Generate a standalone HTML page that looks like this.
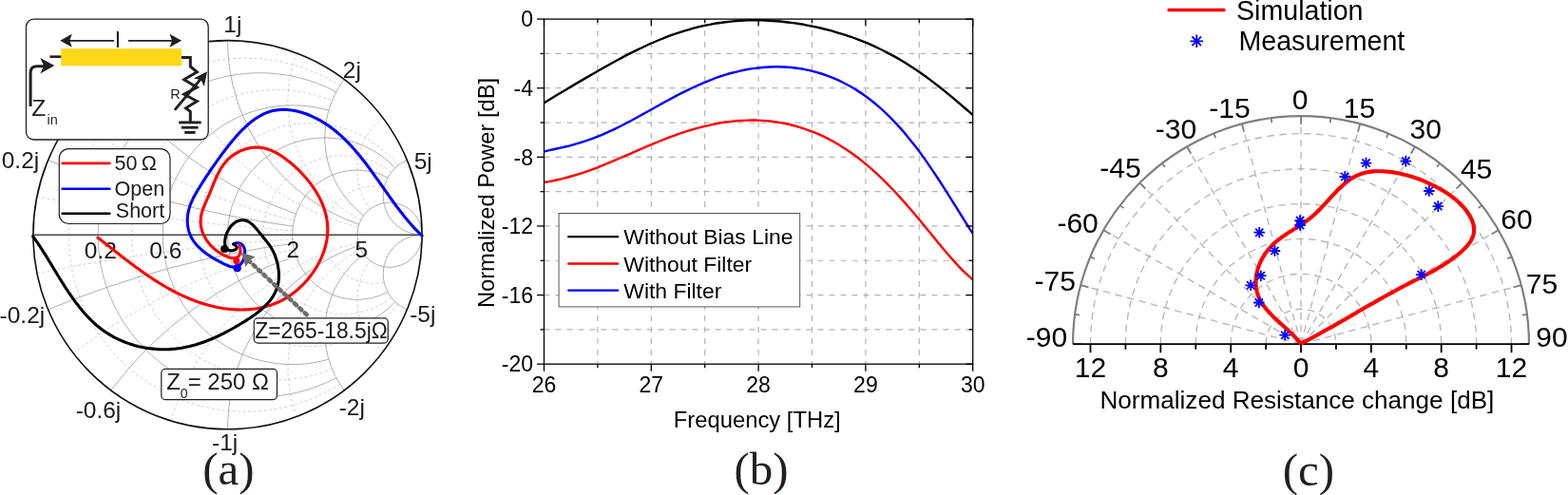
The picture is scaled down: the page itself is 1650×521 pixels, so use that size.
<!DOCTYPE html>
<html><head><meta charset="utf-8"><title>Figure</title>
<style>html,body{margin:0;padding:0;background:#fff;}svg{display:block;}</style></head>
<body><svg width="1650" height="521" viewBox="0 0 1650 521">
<rect width="1650" height="521" fill="#fff"/>
<defs><clipPath id="uc"><circle cx="239.5" cy="247.2" r="204.3"/></clipPath></defs>
<g clip-path="url(#uc)" fill="none">
<g stroke="#c4c4c4" stroke-width="0.8" stroke-dasharray="3 2.5"><path d="M357.7,404.28A186,186 0 1 1 357.7,90.12"/><path d="M38.95,206.69A2046,2046 0 0 0 307.85,242.66"/><path d="M38.95,287.71A2046,2046 0 0 1 307.85,251.74"/><path d="M349.49,388.41A152.69,152.69 0 1 1 349.49,105.99"/><path d="M77.3,122.49A601.76,601.76 0 0 0 309.43,231.94"/><path d="M77.3,371.91A601.76,601.76 0 0 1 309.43,262.46"/><path d="M418.7,320.2A117.59,117.59 0 1 1 418.7,174.2"/><path d="M179.69,51.54A276.49,276.49 0 0 0 376.92,238.91"/><path d="M179.69,442.86A276.49,276.49 0 0 1 376.92,255.49"/><path d="M411.76,313.19A83.51,83.51 0 1 1 411.76,181.21"/><path d="M312.21,55.95A141.1,141.1 0 0 0 379.66,231.63"/><path d="M312.21,438.45A141.1,141.1 0 0 1 379.66,262.77"/><path d="M404.18,297.1A51.15,51.15 0 1 1 404.18,197.3"/><path d="M403.18,124.44A68.2,68.2 0 0 0 389.54,219.92"/><path d="M403.18,369.96A68.2,68.2 0 0 1 389.54,274.48"/></g>
<g stroke="#9a9a9a" stroke-width="0.8"><path d="M353.84,397.64A170.5,170.5 0 1 1 353.84,96.76"/><path d="M50.64,168.51A1023,1023 0 0 0 308.3,238.15"/><path d="M50.64,325.89A1023,1023 0 0 1 308.3,256.25"/><path d="M345.89,378.14A136.4,136.4 0 1 1 345.89,116.26"/><path d="M116.74,83.52A409.2,409.2 0 0 0 311.39,225.08"/><path d="M116.74,410.88A409.2,409.2 0 0 1 311.39,269.32"/><path d="M415.88,317.75A102.3,102.3 0 1 1 415.88,176.65"/><path d="M239.5,42.6A204.6,204.6 0 0 0 377.74,236.14"/><path d="M239.5,451.8A204.6,204.6 0 0 1 377.74,258.26"/><path d="M407.99,307.38A68.2,68.2 0 1 1 407.99,187.02"/><path d="M362.26,83.52A102.3,102.3 0 0 0 382.72,226.74"/><path d="M362.26,410.88A102.3,102.3 0 0 1 382.72,267.66"/><circle cx="410" cy="247.2" r="34.1"/><path d="M428.36,168.51A40.92,40.92 0 0 0 444.1,247.2"/><path d="M428.36,325.89A40.92,40.92 0 0 1 444.1,247.2"/></g>
</g>
<line x1="34.9" y1="247.2" x2="444.1" y2="247.2" stroke="#454545" stroke-width="1.4"/>
<circle cx="239.5" cy="247.2" r="204.6" fill="none" stroke="#111" stroke-width="1.6"/>
<text x="244.8" y="34.2" font-size="24.5" text-anchor="middle" font-family="'Liberation Sans', Arial, Helvetica, sans-serif" fill="#1a1a1a">1j</text>
<text x="370.3" y="81.6" font-size="24.5" text-anchor="middle" font-family="'Liberation Sans', Arial, Helvetica, sans-serif" fill="#1a1a1a">2j</text>
<text x="445.2" y="178.4" font-size="24.5" text-anchor="middle" font-family="'Liberation Sans', Arial, Helvetica, sans-serif" fill="#1a1a1a">5j</text>
<text x="21.5" y="176.6" font-size="24.5" text-anchor="middle" font-family="'Liberation Sans', Arial, Helvetica, sans-serif" fill="#1a1a1a">0.2j</text>
<text x="23.4" y="339.5" font-size="24.5" text-anchor="middle" font-family="'Liberation Sans', Arial, Helvetica, sans-serif" fill="#1a1a1a">-0.2j</text>
<text x="103.5" y="440.3" font-size="24.5" text-anchor="middle" font-family="'Liberation Sans', Arial, Helvetica, sans-serif" fill="#1a1a1a">-0.6j</text>
<text x="236.7" y="474.4" font-size="24.5" text-anchor="middle" font-family="'Liberation Sans', Arial, Helvetica, sans-serif" fill="#1a1a1a">-1j</text>
<text x="370.3" y="436.8" font-size="24.5" text-anchor="middle" font-family="'Liberation Sans', Arial, Helvetica, sans-serif" fill="#1a1a1a">-2j</text>
<text x="444.8" y="338.8" font-size="24.5" text-anchor="middle" font-family="'Liberation Sans', Arial, Helvetica, sans-serif" fill="#1a1a1a">-5j</text>
<text x="105.9" y="271.5" font-size="24.5" text-anchor="middle" font-family="'Liberation Sans', Arial, Helvetica, sans-serif" fill="#1a1a1a">0.2</text>
<text x="174.3" y="271.5" font-size="24.5" text-anchor="middle" font-family="'Liberation Sans', Arial, Helvetica, sans-serif" fill="#1a1a1a">0.6</text>
<text x="308.2" y="271.2" font-size="24.5" text-anchor="middle" font-family="'Liberation Sans', Arial, Helvetica, sans-serif" fill="#1a1a1a">2</text>
<text x="380.2" y="271.2" font-size="24.5" text-anchor="middle" font-family="'Liberation Sans', Arial, Helvetica, sans-serif" fill="#1a1a1a">5</text>
<path d="M444.1,248.1 442.7,246.8 441.3,245.4 440.0,244.1 438.6,242.7 437.3,241.3 435.9,239.9 434.6,238.4 433.3,237.0 432.0,235.5 430.7,234.0 429.4,232.5 428.2,231.0 426.9,229.5 425.6,227.9 424.4,226.4 423.2,224.8 421.9,223.2 420.7,221.6 419.5,220.0 418.2,218.4 417.0,216.8 415.8,215.1 414.6,213.5 413.4,211.8 412.2,210.2 411.0,208.5 409.8,206.8 408.6,205.1 407.5,203.5 406.3,201.8 405.1,200.1 403.9,198.4 402.7,196.7 401.5,195.0 400.3,193.3 399.1,191.6 397.9,189.9 396.7,188.2 395.5,186.6 394.3,184.9 393.1,183.2 391.9,181.5 390.7,179.8 389.5,178.2 388.2,176.5 387.0,174.9 385.8,173.2 384.5,171.6 383.3,169.9 382.0,168.3 380.7,166.7 379.4,165.1 378.1,163.5 376.8,162.0 375.5,160.4 374.2,158.9 372.9,157.3 371.5,155.8 370.2,154.3 368.8,152.8 367.4,151.3 366.0,149.9 364.6,148.5 363.2,147.0 361.8,145.7 360.3,144.3 358.9,142.9 357.4,141.6 355.9,140.3 354.4,139.0 352.8,137.7 351.3,136.5 349.7,135.3 348.1,134.1 346.5,132.9 344.9,131.8 343.2,130.7 341.6,129.6 339.9,128.6 338.2,127.5 336.5,126.5 334.7,125.6 332.9,124.6 331.1,123.8 329.3,122.9 327.5,122.1 325.6,121.3 323.8,120.5 321.9,119.8 320.0,119.2 318.1,118.6 316.2,118.0 314.2,117.5 312.3,117.0 310.4,116.6 308.4,116.3 306.5,116.0 304.5,115.7 302.6,115.5 300.6,115.4 298.7,115.4 296.8,115.4 294.8,115.5 292.9,115.7 291.0,115.9 289.1,116.2 287.2,116.6 285.4,117.1 283.5,117.6 281.7,118.2 279.9,118.9 278.1,119.7 276.3,120.6 274.5,121.5 272.8,122.5 271.1,123.5 269.4,124.6 267.7,125.8 266.0,127.0 264.3,128.3 262.7,129.6 261.1,131.0 259.5,132.4 257.9,133.8 256.4,135.3 254.8,136.8 253.3,138.3 251.8,139.9 250.4,141.5 248.9,143.1 247.5,144.7 246.1,146.4 244.7,148.0 243.3,149.7 241.9,151.4 240.6,153.0 239.3,154.7 238.0,156.4 236.8,158.0 235.5,159.7 234.3,161.3 233.1,162.9 231.9,164.5 230.8,166.1 229.6,167.7 228.5,169.2 227.4,170.8 226.3,172.3 225.3,173.8 224.2,175.4 223.1,176.9 222.1,178.4 221.0,180.0 220.0,181.5 219.0,183.1 217.9,184.6 216.9,186.2 215.8,187.8 214.8,189.5 213.7,191.1 212.6,192.8 211.6,194.5 210.5,196.2 209.4,198.0 208.3,199.8 207.2,201.6 206.1,203.5 205.1,205.4 204.0,207.2 203.1,209.2 202.2,211.1 201.3,213.0 200.5,215.0 199.8,217.0 199.2,218.9 198.6,220.9 198.2,222.9 197.8,224.9 197.5,226.9 197.3,228.9 197.2,230.8 197.2,232.8 197.3,234.7 197.5,236.7 197.7,238.6 198.1,240.5 198.5,242.3 199.0,244.2 199.7,246.0 200.4,247.7 201.2,249.5 202.1,251.2 203.1,252.8 204.2,254.4 205.4,256.0 206.6,257.5 208.0,259.0 209.4,260.4 210.9,261.8 212.4,263.2 214.0,264.5 215.6,265.8 217.3,267.1 219.1,268.3 220.9,269.5 222.7,270.6 224.5,271.8 226.4,272.8 228.3,273.9 230.2,274.9 232.1,275.9 234.0,276.9 235.9,277.9 237.7,278.7 239.6,279.5 241.5,280.2 243.3,280.7 245.0,281.0 246.7,281.1 248.3,280.9 249.9,280.4 251.3,279.6 252.7,278.5 253.9,277.2 255.0,275.6 256.0,273.9 256.7,272.0 257.3,270.1 257.6,268.0 257.7,265.9 257.6,263.8 257.2,261.8 256.6,260.0 255.6,258.4 254.4,257.1 252.8,256.2 251.0,255.8 248.8,255.8 246.2,256.5" fill="none" stroke="#0000ff" stroke-width="3.1" stroke-linecap="round" stroke-linejoin="round"/>
<path d="M102.9,250.1 104.5,251.3 106.0,252.5 107.6,253.7 109.1,255.0 110.7,256.2 112.2,257.4 113.8,258.6 115.3,259.8 116.9,261.1 118.5,262.3 120.0,263.5 121.6,264.8 123.2,266.0 124.8,267.2 126.3,268.5 127.9,269.7 129.5,270.9 131.1,272.2 132.7,273.4 134.3,274.6 135.9,275.8 137.5,277.1 139.2,278.3 140.8,279.5 142.4,280.7 144.1,281.9 145.7,283.1 147.3,284.3 149.0,285.4 150.6,286.6 152.3,287.8 154.0,288.9 155.6,290.1 157.3,291.2 159.0,292.3 160.7,293.5 162.4,294.6 164.1,295.7 165.8,296.7 167.5,297.8 169.3,298.9 171.0,299.9 172.7,301.0 174.5,302.0 176.2,303.0 178.0,304.0 179.8,304.9 181.5,305.9 183.3,306.8 185.1,307.8 186.9,308.7 188.7,309.6 190.5,310.4 192.3,311.3 194.2,312.1 196.0,312.9 197.9,313.7 199.7,314.5 201.6,315.3 203.5,316.0 205.3,316.7 207.2,317.4 209.1,318.1 211.0,318.7 213.0,319.3 214.9,319.9 216.8,320.5 218.8,321.1 220.7,321.6 222.7,322.1 224.7,322.5 226.6,323.0 228.6,323.4 230.6,323.8 232.6,324.1 234.6,324.5 236.6,324.7 238.5,325.0 240.5,325.2 242.5,325.5 244.5,325.6 246.5,325.8 248.5,325.9 250.5,325.9 252.5,326.0 254.5,326.0 256.5,325.9 258.5,325.9 260.5,325.8 262.4,325.6 264.4,325.5 266.4,325.2 268.3,325.0 270.3,324.7 272.2,324.4 274.1,324.0 276.0,323.6 277.9,323.1 279.8,322.6 281.7,322.1 283.6,321.5 285.5,320.9 287.3,320.2 289.2,319.5 291.0,318.8 292.8,318.0 294.6,317.2 296.4,316.3 298.1,315.3 299.9,314.3 301.6,313.3 303.3,312.2 305.0,311.1 306.6,310.0 308.3,308.8 309.9,307.5 311.5,306.2 313.1,304.9 314.6,303.5 316.1,302.2 317.6,300.7 319.1,299.3 320.5,297.8 321.9,296.2 323.3,294.7 324.6,293.1 325.9,291.5 327.2,289.8 328.4,288.1 329.6,286.5 330.8,284.7 331.9,283.0 333.0,281.2 334.0,279.4 335.0,277.6 336.0,275.8 336.9,274.0 337.8,272.1 338.6,270.3 339.4,268.4 340.1,266.5 340.8,264.6 341.4,262.7 342.0,260.8 342.5,258.8 343.0,256.9 343.4,255.0 343.8,253.0 344.1,251.1 344.4,249.1 344.6,247.2 344.7,245.2 344.8,243.3 344.8,241.3 344.8,239.4 344.7,237.4 344.6,235.5 344.3,233.6 344.1,231.7 343.7,229.8 343.4,227.9 342.9,226.0 342.4,224.1 341.9,222.2 341.3,220.3 340.7,218.5 340.0,216.6 339.3,214.8 338.5,213.0 337.7,211.1 336.8,209.3 335.9,207.6 334.9,205.8 333.9,204.0 332.9,202.3 331.8,200.5 330.7,198.8 329.6,197.1 328.4,195.5 327.2,193.8 325.9,192.1 324.7,190.5 323.3,188.9 322.0,187.3 320.6,185.8 319.2,184.2 317.8,182.7 316.4,181.2 314.9,179.7 313.4,178.2 311.9,176.8 310.4,175.4 308.8,174.0 307.3,172.6 305.7,171.3 304.1,170.0 302.4,168.7 300.8,167.5 299.2,166.2 297.5,165.1 295.8,163.9 294.1,162.8 292.4,161.8 290.7,160.8 288.9,159.9 287.2,159.1 285.4,158.3 283.6,157.6 281.8,157.0 279.9,156.4 278.1,156.0 276.2,155.6 274.3,155.3 272.4,155.1 270.5,155.0 268.6,155.1 266.6,155.2 264.6,155.5 262.7,155.8 260.7,156.2 258.7,156.8 256.8,157.4 254.9,158.1 253.0,158.9 251.1,159.8 249.3,160.8 247.6,161.8 245.9,162.9 244.2,164.1 242.6,165.3 241.1,166.6 239.7,168.0 238.4,169.4 237.1,170.9 235.9,172.4 234.7,174.0 233.6,175.6 232.5,177.2 231.5,178.9 230.6,180.6 229.7,182.4 228.8,184.2 227.9,186.0 227.1,187.8 226.3,189.7 225.5,191.6 224.7,193.5 223.9,195.4 223.1,197.3 222.4,199.3 221.6,201.2 220.8,203.1 220.0,205.1 219.2,207.0 218.3,208.9 217.5,210.9 216.6,212.8 215.8,214.7 215.0,216.6 214.2,218.5 213.5,220.4 212.9,222.3 212.3,224.2 211.9,226.1 211.5,228.1 211.3,230.0 211.1,231.9 211.1,233.8 211.2,235.6 211.4,237.5 211.7,239.4 212.2,241.2 212.7,243.1 213.3,244.9 214.0,246.7 214.9,248.4 215.8,250.1 216.8,251.8 217.9,253.5 219.1,255.1 220.4,256.7 221.7,258.2 223.1,259.7 224.7,261.1 226.2,262.5 227.9,263.8 229.6,265.0 231.4,266.2 233.3,267.3 235.2,268.3 237.1,269.3 239.0,270.0 240.9,270.7 242.7,271.2 244.4,271.5 246.1,271.6 247.6,271.5 249.0,271.1 250.2,270.5 251.2,269.6 252.0,268.5 252.6,267.0 252.9,265.3 253.0,263.1 252.7,260.6 252.2,257.8" fill="none" stroke="#ff0000" stroke-width="3.1" stroke-linecap="round" stroke-linejoin="round"/>
<path d="M34.6,248.7 35.7,250.2 36.8,251.7 37.9,253.3 39.0,254.9 40.1,256.4 41.1,258.0 42.2,259.6 43.3,261.3 44.4,262.9 45.4,264.6 46.5,266.3 47.5,267.9 48.6,269.6 49.6,271.3 50.7,273.1 51.7,274.8 52.8,276.5 53.9,278.2 54.9,280.0 56.0,281.7 57.0,283.5 58.1,285.2 59.2,287.0 60.2,288.8 61.3,290.5 62.4,292.3 63.5,294.0 64.6,295.8 65.7,297.6 66.8,299.3 67.9,301.1 69.0,302.8 70.2,304.5 71.3,306.3 72.4,308.0 73.6,309.7 74.8,311.4 76.0,313.1 77.2,314.8 78.4,316.4 79.6,318.1 80.8,319.7 82.1,321.3 83.3,322.9 84.6,324.5 85.9,326.1 87.2,327.7 88.5,329.2 89.9,330.7 91.2,332.2 92.6,333.7 94.0,335.1 95.4,336.5 96.8,337.9 98.3,339.3 99.7,340.6 101.2,342.0 102.7,343.3 104.3,344.5 105.8,345.7 107.4,346.9 109.0,348.1 110.6,349.2 112.3,350.3 114.0,351.4 115.6,352.4 117.4,353.4 119.1,354.4 120.8,355.3 122.6,356.2 124.4,357.1 126.2,357.9 128.0,358.7 129.9,359.5 131.7,360.2 133.6,360.9 135.5,361.6 137.4,362.2 139.3,362.8 141.2,363.4 143.1,363.9 145.1,364.4 147.0,364.9 149.0,365.3 151.0,365.7 152.9,366.1 154.9,366.4 156.9,366.7 158.9,366.9 160.9,367.1 162.9,367.3 164.9,367.5 166.9,367.6 168.9,367.7 170.9,367.7 172.9,367.7 174.9,367.7 176.9,367.7 178.9,367.6 180.9,367.4 182.9,367.3 184.8,367.1 186.8,366.8 188.8,366.6 190.8,366.3 192.7,365.9 194.7,365.5 196.6,365.1 198.6,364.7 200.5,364.2 202.4,363.7 204.4,363.2 206.3,362.7 208.2,362.1 210.1,361.5 212.0,360.8 213.9,360.2 215.8,359.5 217.7,358.8 219.6,358.0 221.5,357.3 223.3,356.5 225.2,355.7 227.1,354.8 228.9,354.0 230.8,353.1 232.6,352.2 234.4,351.3 236.3,350.4 238.1,349.4 239.9,348.5 241.7,347.5 243.5,346.5 245.3,345.5 247.1,344.5 248.9,343.4 250.7,342.4 252.5,341.3 254.3,340.2 256.1,339.2 257.8,338.1 259.6,336.9 261.3,335.8 263.1,334.7 264.8,333.5 266.4,332.4 268.1,331.2 269.7,330.0 271.4,328.7 272.9,327.5 274.5,326.2 276.0,324.9 277.4,323.6 278.8,322.2 280.2,320.8 281.5,319.4 282.8,318.0 284.0,316.5 285.1,315.0 286.2,313.5 287.3,311.9 288.2,310.3 289.1,308.6 289.9,306.9 290.6,305.2 291.3,303.4 291.9,301.6 292.4,299.8 292.8,297.9 293.1,295.9 293.3,293.9 293.4,291.9 293.5,289.8 293.4,287.7 293.3,285.5 293.0,283.4 292.7,281.2 292.3,279.0 291.9,276.9 291.3,274.8 290.7,272.7 290.0,270.7 289.3,268.7 288.5,266.8 287.6,264.9 286.7,263.1 285.7,261.5 284.7,259.8 283.7,258.2 282.6,256.7 281.4,255.2 280.3,253.7 279.1,252.2 277.8,250.7 276.6,249.1 275.3,247.6 274.0,246.0 272.6,244.3 271.3,242.6 269.9,241.0 268.5,239.4 267.1,237.8 265.6,236.4 264.0,235.1 262.5,233.9 260.8,233.0 259.1,232.3 257.4,231.9 255.5,231.7 253.7,231.8 251.9,232.1 250.1,232.7 248.3,233.5 246.7,234.7 245.0,236.0 243.5,237.6 242.1,239.3 240.9,241.2 239.7,243.2 238.7,245.3 237.9,247.5 237.3,249.6 236.9,251.8 236.6,253.9 236.6,255.9 236.8,257.7 237.3,259.4 237.9,260.9 238.8,262.1 240.0,263.0 241.4,263.6 243.0,263.9 244.7,263.7 246.4,263.3 247.8,262.7 248.9,261.8 249.3,260.7 249.0,259.6 247.8,258.3 245.5,257.0" fill="none" stroke="#000" stroke-width="3.1" stroke-linecap="round" stroke-linejoin="round"/>
<circle cx="236.2" cy="262" r="4.1" fill="#000"/><circle cx="248.8" cy="274.4" r="3.6" fill="#f00"/><circle cx="249.7" cy="282.2" r="4.1" fill="#00f"/>
<line x1="322.8" y1="331.3" x2="263" y2="275.5" stroke="#6d6d6d" stroke-width="4.6" stroke-linecap="round" stroke-dasharray="2.8 4.6"/>
<path d="M253.8,265.8 L268.6,270.2 L263,274 L258.6,280.9 Z" fill="#6d6d6d"/>
<rect x="267.3" y="334.9" width="141" height="26.2" rx="4" fill="#fff" stroke="#231f20" stroke-width="1.2"/>
<text x="268.3" y="355.6" font-size="23.8" text-anchor="start" font-family="'Liberation Sans', Arial, Helvetica, sans-serif" fill="#1a1a1a" textLength="139.5" lengthAdjust="spacingAndGlyphs">Z=265-18.5jΩ</text>
<rect x="169.8" y="388.4" width="121.7" height="32.2" rx="4" fill="#fff" stroke="#231f20" stroke-width="1.2"/>
<text x="175.2" y="410.2" font-size="24" text-anchor="start" font-family="'Liberation Sans', Arial, Helvetica, sans-serif" fill="#1a1a1a">Z<tspan font-size="14" dy="8.3">0</tspan><tspan dy="-8.3">= 250 Ω</tspan></text>
<rect x="62.3" y="156.6" width="116.7" height="78.9" rx="10" fill="#fff" stroke="#231f20" stroke-width="1.2"/>
<line x1="65.7" y1="171.9" x2="115.4" y2="171.9" stroke="#f00" stroke-width="2.6" stroke-linecap="round"/>
<line x1="65.7" y1="198.7" x2="115.4" y2="198.7" stroke="#00f" stroke-width="2.6" stroke-linecap="round"/>
<line x1="65.7" y1="224.8" x2="115.4" y2="224.8" stroke="#000" stroke-width="2.6" stroke-linecap="round"/>
<text x="120.6" y="179.4" font-size="21.5" text-anchor="start" font-family="'Liberation Sans', Arial, Helvetica, sans-serif" fill="#1a1a1a">50&#8201;Ω</text>
<text x="120.6" y="205.6" font-size="21.5" text-anchor="start" font-family="'Liberation Sans', Arial, Helvetica, sans-serif" fill="#1a1a1a">Open</text>
<text x="121.8" y="228.6" font-size="21.5" text-anchor="start" font-family="'Liberation Sans', Arial, Helvetica, sans-serif" fill="#1a1a1a">Short</text>
<rect x="27.5" y="20.2" width="191.7" height="126.8" rx="8" fill="#fff" stroke="#231f20" stroke-width="1.3"/>
<rect x="64.2" y="51.1" width="126.9" height="18.2" fill="#fdd817"/>
<g stroke="#231f20" fill="none" stroke-width="1.8"><line x1="73" y1="42.8" x2="120.1" y2="42.8"/><line x1="135" y1="42.8" x2="181.5" y2="42.8"/></g>
<path d="M63.2,42.8 L75.8,35.8 L73.3,42.8 L75.8,49.8 Z M191.1,42.8 L178.5,35.8 L181,42.8 L178.5,49.8 Z" fill="#231f20"/>
<text x="123.9" y="49.9" font-size="24" text-anchor="middle" font-family="'Liberation Sans', Arial, Helvetica, sans-serif" fill="#231f20">l</text>
<line x1="52.4" y1="59.7" x2="64.3" y2="59.7" stroke="#231f20" stroke-width="2.7"/>
<polyline points="191,60.5 200.3,60.5 200.3,70 207.3,75.8 193.7,83.7 207.3,91.9 193.7,99.2 207.3,106.5 195.5,113.8 200.3,117.4 200.3,128.7" fill="none" stroke="#231f20" stroke-width="3" stroke-linejoin="miter"/>
<g stroke="#231f20" stroke-width="2.9"><line x1="188.2" y1="128.9" x2="211.6" y2="128.9"/><line x1="191" y1="134.2" x2="208.6" y2="134.2"/><line x1="194.2" y1="139.4" x2="205.6" y2="139.4"/></g>
<line x1="184.6" y1="114.9" x2="211.5" y2="82.9" stroke="#231f20" stroke-width="3" stroke-linecap="round"/>
<path d="M218,75.2 L214.8,91 L211.5,84 L203.8,82.4 Z" fill="#231f20"/>
<text x="179.2" y="103.8" font-size="14.5" text-anchor="start" font-family="'Liberation Sans', Arial, Helvetica, sans-serif" fill="#231f20">R</text>
<path d="M32.1,111.9 L32.1,76.5 Q32.1,69.7 39,69.7 L47,69.7" fill="none" stroke="#231f20" stroke-width="3"/>
<path d="M57.4,68.9 L42.3,61.1 L46.2,69.2 L42.3,77.4 Z" fill="#231f20"/>
<text x="33.3" y="121.6" font-size="24.5" text-anchor="start" font-family="'Liberation Sans', Arial, Helvetica, sans-serif" fill="#231f20">Z<tspan font-size="14.5" dx="1.2" dy="9.3">in</tspan></text>
<text x="240.5" y="509.5" font-size="49" text-anchor="middle" font-family="'Liberation Serif', 'Times New Roman', serif" fill="#231f20">(a)</text>
<g stroke="#b4b4b4" stroke-width="1.2" stroke-dasharray="6 6"><line x1="628.9" y1="20.1" x2="628.9" y2="383.2"/><line x1="685.3" y1="20.1" x2="685.3" y2="383.2"/><line x1="741.7" y1="20.1" x2="741.7" y2="383.2"/><line x1="798.1" y1="20.1" x2="798.1" y2="383.2"/><line x1="854.5" y1="20.1" x2="854.5" y2="383.2"/><line x1="910.9" y1="20.1" x2="910.9" y2="383.2"/><line x1="967.3" y1="20.1" x2="967.3" y2="383.2"/><line x1="572.5" y1="56.41" x2="1023.7" y2="56.41"/><line x1="572.5" y1="92.72" x2="1023.7" y2="92.72"/><line x1="572.5" y1="129.03" x2="1023.7" y2="129.03"/><line x1="572.5" y1="165.34" x2="1023.7" y2="165.34"/><line x1="572.5" y1="201.65" x2="1023.7" y2="201.65"/><line x1="572.5" y1="237.96" x2="1023.7" y2="237.96"/><line x1="572.5" y1="274.27" x2="1023.7" y2="274.27"/><line x1="572.5" y1="310.58" x2="1023.7" y2="310.58"/><line x1="572.5" y1="346.89" x2="1023.7" y2="346.89"/></g>
<defs><clipPath id="pb"><rect x="572.5" y="17.1" width="451.2" height="366.1"/></clipPath></defs>
<g clip-path="url(#pb)" fill="none" stroke-width="2.4" stroke-linejoin="round">
<path d="M571.5,108.91C572.78,108.12 576.62,105.76 579.18,104.21C581.74,102.65 584.3,101.11 586.86,99.57C589.42,98.03 591.98,96.5 594.54,94.97C597.1,93.44 599.66,91.92 602.23,90.4C604.79,88.89 607.35,87.38 609.91,85.87C612.47,84.37 615.03,82.86 617.59,81.37C620.15,79.88 622.71,78.4 625.27,76.92C627.83,75.45 630.39,73.98 632.95,72.53C635.51,71.08 638.07,69.64 640.63,68.22C643.19,66.8 645.75,65.39 648.31,64C650.87,62.61 653.43,61.24 655.99,59.9C658.56,58.55 661.12,57.22 663.68,55.93C666.24,54.63 668.8,53.35 671.36,52.11C673.92,50.87 676.48,49.65 679.04,48.47C681.6,47.29 684.16,46.13 686.72,45.01C689.28,43.9 691.84,42.81 694.4,41.76C696.96,40.72 699.52,39.7 702.08,38.73C704.64,37.76 707.2,36.82 709.76,35.93C712.32,35.03 714.89,34.17 717.45,33.36C720.01,32.55 722.57,31.77 725.13,31.04C727.69,30.3 730.25,29.61 732.81,28.96C735.37,28.32 737.93,27.71 740.49,27.14C743.05,26.58 745.61,26.05 748.17,25.57C750.73,25.09 753.29,24.65 755.85,24.26C758.41,23.86 760.97,23.5 763.53,23.19C766.09,22.87 768.65,22.6 771.22,22.36C773.78,22.13 776.34,21.93 778.9,21.78C781.46,21.62 784.02,21.5 786.58,21.42C789.14,21.34 791.7,21.3 794.26,21.3C796.82,21.29 799.38,21.33 801.94,21.4C804.5,21.46 807.06,21.57 809.62,21.71C812.18,21.85 814.74,22.02 817.3,22.23C819.86,22.44 822.42,22.68 824.98,22.95C827.55,23.23 830.11,23.54 832.67,23.88C835.23,24.22 837.79,24.59 840.35,25C842.91,25.4 845.47,25.84 848.03,26.31C850.59,26.78 853.15,27.29 855.71,27.82C858.27,28.36 860.83,28.93 863.39,29.53C865.95,30.13 868.51,30.77 871.07,31.44C873.63,32.11 876.19,32.81 878.75,33.55C881.31,34.29 883.88,35.06 886.44,35.87C889,36.68 891.56,37.53 894.12,38.42C896.68,39.3 899.24,40.22 901.8,41.19C904.36,42.15 906.92,43.16 909.48,44.2C912.04,45.25 914.6,46.34 917.16,47.47C919.72,48.6 922.28,49.78 924.84,51C927.4,52.22 929.96,53.49 932.52,54.81C935.08,56.12 937.64,57.48 940.21,58.9C942.77,60.31 945.33,61.77 947.89,63.28C950.45,64.8 953.01,66.36 955.57,67.97C958.13,69.58 960.69,71.25 963.25,72.96C965.81,74.68 968.37,76.44 970.93,78.25C973.49,80.07 976.05,81.93 978.61,83.84C981.17,85.75 983.73,87.7 986.29,89.7C988.85,91.7 991.41,93.74 993.97,95.81C996.54,97.89 999.1,100 1001.66,102.14C1004.22,104.28 1006.78,106.46 1009.34,108.64C1011.9,110.82 1014.46,113.03 1017.02,115.24C1019.58,117.44 1023.42,120.76 1024.7,121.86" stroke="#000"/>
<path d="M571.5,159.67C572.78,159.38 576.62,158.52 579.18,157.95C581.74,157.39 584.3,156.86 586.86,156.29C589.42,155.71 591.98,155.14 594.54,154.53C597.1,153.91 599.66,153.28 602.23,152.59C604.79,151.9 607.35,151.18 609.91,150.4C612.47,149.62 615.03,148.8 617.59,147.92C620.15,147.05 622.71,146.12 625.27,145.15C627.83,144.17 630.39,143.14 632.95,142.07C635.51,140.99 638.07,139.87 640.63,138.7C643.19,137.54 645.75,136.32 648.31,135.08C650.87,133.83 653.43,132.54 655.99,131.23C658.56,129.92 661.12,128.57 663.68,127.2C666.24,125.84 668.8,124.44 671.36,123.04C673.92,121.64 676.48,120.21 679.04,118.79C681.6,117.37 684.16,115.93 686.72,114.5C689.28,113.07 691.84,111.64 694.4,110.22C696.96,108.81 699.52,107.39 702.08,106C704.64,104.61 707.2,103.23 709.76,101.88C712.32,100.53 714.89,99.19 717.45,97.9C720.01,96.6 722.57,95.32 725.13,94.09C727.69,92.85 730.25,91.65 732.81,90.49C735.37,89.33 737.93,88.21 740.49,87.13C743.05,86.05 745.61,85.02 748.17,84.03C750.73,83.04 753.29,82.1 755.85,81.21C758.41,80.32 760.97,79.48 763.53,78.69C766.09,77.9 768.65,77.17 771.22,76.48C773.78,75.8 776.34,75.17 778.9,74.6C781.46,74.03 784.02,73.51 786.58,73.05C789.14,72.59 791.7,72.18 794.26,71.84C796.82,71.49 799.38,71.2 801.94,70.97C804.5,70.74 807.06,70.56 809.62,70.45C812.18,70.34 814.74,70.28 817.3,70.29C819.86,70.3 822.42,70.36 824.98,70.49C827.55,70.62 830.11,70.81 832.67,71.06C835.23,71.32 837.79,71.63 840.35,72.01C842.91,72.39 845.47,72.84 848.03,73.35C850.59,73.87 853.15,74.45 855.71,75.1C858.27,75.75 860.83,76.47 863.39,77.26C865.95,78.05 868.51,78.92 871.07,79.86C873.63,80.8 876.19,81.82 878.75,82.92C881.31,84.02 883.88,85.2 886.44,86.47C889,87.73 891.56,89.08 894.12,90.52C896.68,91.96 899.24,93.49 901.8,95.12C904.36,96.74 906.92,98.45 909.48,100.27C912.04,102.09 914.6,104 917.16,106.02C919.72,108.04 922.28,110.16 924.84,112.39C927.4,114.62 929.96,116.95 932.52,119.4C935.08,121.85 937.64,124.4 940.21,127.07C942.77,129.74 945.33,132.52 947.89,135.41C950.45,138.3 953.01,141.31 955.57,144.42C958.13,147.54 960.69,150.77 963.25,154.1C965.81,157.43 968.37,160.87 970.93,164.41C973.49,167.95 976.05,171.59 978.61,175.32C981.17,179.04 983.73,182.87 986.29,186.76C988.85,190.64 991.41,194.62 993.97,198.63C996.54,202.64 999.1,206.73 1001.66,210.82C1004.22,214.9 1006.78,219.05 1009.34,223.16C1011.9,227.27 1014.46,231.41 1017.02,235.46C1019.58,239.51 1023.42,245.46 1024.7,247.46" stroke="#0000ff"/>
<path d="M571.5,192.17C572.78,191.95 576.62,191.31 579.18,190.82C581.74,190.33 584.3,189.8 586.86,189.22C589.42,188.65 591.98,188.03 594.54,187.37C597.1,186.71 599.66,186 602.23,185.25C604.79,184.51 607.35,183.72 609.91,182.9C612.47,182.07 615.03,181.2 617.59,180.31C620.15,179.41 622.71,178.47 625.27,177.51C627.83,176.55 630.39,175.55 632.95,174.54C635.51,173.53 638.07,172.48 640.63,171.42C643.19,170.37 645.75,169.28 648.31,168.2C650.87,167.11 653.43,166 655.99,164.9C658.56,163.79 661.12,162.67 663.68,161.56C666.24,160.44 668.8,159.32 671.36,158.21C673.92,157.11 676.48,156 679.04,154.91C681.6,153.81 684.16,152.73 686.72,151.66C689.28,150.6 691.84,149.54 694.4,148.51C696.96,147.48 699.52,146.47 702.08,145.49C704.64,144.51 707.2,143.55 709.76,142.62C712.32,141.69 714.89,140.79 717.45,139.93C720.01,139.06 722.57,138.23 725.13,137.43C727.69,136.64 730.25,135.87 732.81,135.15C735.37,134.43 737.93,133.75 740.49,133.11C743.05,132.47 745.61,131.88 748.17,131.32C750.73,130.77 753.29,130.26 755.85,129.8C758.41,129.34 760.97,128.92 763.53,128.55C766.09,128.18 768.65,127.86 771.22,127.59C773.78,127.32 776.34,127.1 778.9,126.93C781.46,126.76 784.02,126.64 786.58,126.58C789.14,126.52 791.7,126.5 794.26,126.55C796.82,126.59 799.38,126.68 801.94,126.84C804.5,126.99 807.06,127.2 809.62,127.47C812.18,127.73 814.74,128.06 817.3,128.44C819.86,128.82 822.42,129.26 824.98,129.77C827.55,130.27 830.11,130.84 832.67,131.47C835.23,132.09 837.79,132.78 840.35,133.54C842.91,134.3 845.47,135.12 848.03,136.01C850.59,136.9 853.15,137.85 855.71,138.88C858.27,139.9 860.83,141 863.39,142.16C865.95,143.33 868.51,144.57 871.07,145.88C873.63,147.19 876.19,148.58 878.75,150.04C881.31,151.51 883.88,153.04 886.44,154.66C889,156.28 891.56,157.97 894.12,159.75C896.68,161.52 899.24,163.38 901.8,165.31C904.36,167.24 906.92,169.26 909.48,171.35C912.04,173.45 914.6,175.62 917.16,177.88C919.72,180.13 922.28,182.47 924.84,184.88C927.4,187.29 929.96,189.78 932.52,192.34C935.08,194.9 937.64,197.55 940.21,200.25C942.77,202.96 945.33,205.74 947.89,208.57C950.45,211.41 953.01,214.31 955.57,217.26C958.13,220.21 960.69,223.22 963.25,226.26C965.81,229.29 968.37,232.39 970.93,235.49C973.49,238.58 976.05,241.73 978.61,244.85C981.17,247.97 983.73,251.12 986.29,254.23C988.85,257.33 991.41,260.44 993.97,263.47C996.54,266.51 999.1,269.52 1001.66,272.41C1004.22,275.31 1006.78,278.15 1009.34,280.83C1011.9,283.51 1014.46,286.11 1017.02,288.49C1019.58,290.86 1023.42,293.98 1024.7,295.08" stroke="#ff0000"/>
</g>
<rect x="572.5" y="20.1" width="451.2" height="363.1" fill="none" stroke="#000" stroke-width="1.3"/>
<g stroke="#000" stroke-width="1.3"><line x1="572.5" y1="383.2" x2="572.5" y2="390.7"/><line x1="572.5" y1="20.1" x2="572.5" y2="27.6"/><line x1="628.9" y1="383.2" x2="628.9" y2="387.2"/><line x1="628.9" y1="20.1" x2="628.9" y2="24.1"/><line x1="685.3" y1="383.2" x2="685.3" y2="390.7"/><line x1="685.3" y1="20.1" x2="685.3" y2="27.6"/><line x1="741.7" y1="383.2" x2="741.7" y2="387.2"/><line x1="741.7" y1="20.1" x2="741.7" y2="24.1"/><line x1="798.1" y1="383.2" x2="798.1" y2="390.7"/><line x1="798.1" y1="20.1" x2="798.1" y2="27.6"/><line x1="854.5" y1="383.2" x2="854.5" y2="387.2"/><line x1="854.5" y1="20.1" x2="854.5" y2="24.1"/><line x1="910.9" y1="383.2" x2="910.9" y2="390.7"/><line x1="910.9" y1="20.1" x2="910.9" y2="27.6"/><line x1="967.3" y1="383.2" x2="967.3" y2="387.2"/><line x1="967.3" y1="20.1" x2="967.3" y2="24.1"/><line x1="1023.7" y1="383.2" x2="1023.7" y2="390.7"/><line x1="1023.7" y1="20.1" x2="1023.7" y2="27.6"/><line x1="565" y1="20.1" x2="572.5" y2="20.1"/><line x1="1016.2" y1="20.1" x2="1023.7" y2="20.1"/><line x1="568.5" y1="56.41" x2="572.5" y2="56.41"/><line x1="1019.7" y1="56.41" x2="1023.7" y2="56.41"/><line x1="565" y1="92.72" x2="572.5" y2="92.72"/><line x1="1016.2" y1="92.72" x2="1023.7" y2="92.72"/><line x1="568.5" y1="129.03" x2="572.5" y2="129.03"/><line x1="1019.7" y1="129.03" x2="1023.7" y2="129.03"/><line x1="565" y1="165.34" x2="572.5" y2="165.34"/><line x1="1016.2" y1="165.34" x2="1023.7" y2="165.34"/><line x1="568.5" y1="201.65" x2="572.5" y2="201.65"/><line x1="1019.7" y1="201.65" x2="1023.7" y2="201.65"/><line x1="565" y1="237.96" x2="572.5" y2="237.96"/><line x1="1016.2" y1="237.96" x2="1023.7" y2="237.96"/><line x1="568.5" y1="274.27" x2="572.5" y2="274.27"/><line x1="1019.7" y1="274.27" x2="1023.7" y2="274.27"/><line x1="565" y1="310.58" x2="572.5" y2="310.58"/><line x1="1016.2" y1="310.58" x2="1023.7" y2="310.58"/><line x1="568.5" y1="346.89" x2="572.5" y2="346.89"/><line x1="1019.7" y1="346.89" x2="1023.7" y2="346.89"/><line x1="565" y1="383.2" x2="572.5" y2="383.2"/><line x1="1016.2" y1="383.2" x2="1023.7" y2="383.2"/></g>
<text x="572.5" y="413.3" font-size="23" text-anchor="middle" font-family="'Liberation Sans', Arial, Helvetica, sans-serif" fill="#000">26</text>
<text x="685.3" y="413.3" font-size="23" text-anchor="middle" font-family="'Liberation Sans', Arial, Helvetica, sans-serif" fill="#000">27</text>
<text x="798.1" y="413.3" font-size="23" text-anchor="middle" font-family="'Liberation Sans', Arial, Helvetica, sans-serif" fill="#000">28</text>
<text x="910.9" y="413.3" font-size="23" text-anchor="middle" font-family="'Liberation Sans', Arial, Helvetica, sans-serif" fill="#000">29</text>
<text x="1023.7" y="413.3" font-size="23" text-anchor="middle" font-family="'Liberation Sans', Arial, Helvetica, sans-serif" fill="#000">30</text>
<text x="561" y="28.3" font-size="23" text-anchor="end" font-family="'Liberation Sans', Arial, Helvetica, sans-serif" fill="#000">0</text>
<text x="561" y="100.92" font-size="23" text-anchor="end" font-family="'Liberation Sans', Arial, Helvetica, sans-serif" fill="#000">-4</text>
<text x="561" y="173.54" font-size="23" text-anchor="end" font-family="'Liberation Sans', Arial, Helvetica, sans-serif" fill="#000">-8</text>
<text x="561" y="246.16" font-size="23" text-anchor="end" font-family="'Liberation Sans', Arial, Helvetica, sans-serif" fill="#000">-12</text>
<text x="561" y="318.78" font-size="23" text-anchor="end" font-family="'Liberation Sans', Arial, Helvetica, sans-serif" fill="#000">-16</text>
<text x="561" y="391.4" font-size="23" text-anchor="end" font-family="'Liberation Sans', Arial, Helvetica, sans-serif" fill="#000">-20</text>
<text x="796.7" y="450.2" font-size="23.8" text-anchor="middle" font-family="'Liberation Sans', Arial, Helvetica, sans-serif" fill="#000">Frequency [THz]</text>
<text transform="translate(520,203) rotate(-90)" x="0" y="0" font-size="23.7" text-anchor="middle" font-family="'Liberation Sans', Arial, Helvetica, sans-serif" fill="#000">Normalized Power [dB]</text>
<rect x="588.1" y="224.5" width="253.6" height="98.4" fill="#fff" stroke="#555" stroke-width="1"/>
<line x1="597.3" y1="249.2" x2="651" y2="249.2" stroke="#000" stroke-width="2.3"/>
<line x1="597.3" y1="277.5" x2="651" y2="277.5" stroke="#ff0000" stroke-width="2.3"/>
<line x1="597.3" y1="305.6" x2="651" y2="305.6" stroke="#0000ff" stroke-width="2.3"/>
<text x="656.3" y="257.2" font-size="22.9" text-anchor="start" font-family="'Liberation Sans', Arial, Helvetica, sans-serif" fill="#000">Without Bias Line</text>
<text x="656.3" y="285.5" font-size="22.9" text-anchor="start" font-family="'Liberation Sans', Arial, Helvetica, sans-serif" fill="#000">Without Filter</text>
<text x="656.3" y="313.6" font-size="22.9" text-anchor="start" font-family="'Liberation Sans', Arial, Helvetica, sans-serif" fill="#000">With Filter</text>
<text x="801" y="510.3" font-size="49" text-anchor="middle" font-family="'Liberation Serif', 'Times New Roman', serif" fill="#231f20">(b)</text>
<g fill="none" stroke="#b6b6b6" stroke-width="1.35" stroke-dasharray="7.5 5.5"><path d="M1332.08,362.2 A36.92,36.92 0 0 1 1405.92,362.2"/><path d="M1295.16,362.2 A73.84,73.84 0 0 1 1442.84,362.2"/><path d="M1258.24,362.2 A110.76,110.76 0 0 1 1479.76,362.2"/><path d="M1221.32,362.2 A147.68,147.68 0 0 1 1516.68,362.2"/><path d="M1184.4,362.2 A184.6,184.6 0 0 1 1553.6,362.2"/><path d="M1147.48,362.2 A221.52,221.52 0 0 1 1590.52,362.2"/><line x1="1369" y1="362.2" x2="1137.2" y2="300.09"/><line x1="1369" y1="362.2" x2="1161.17" y2="242.21"/><line x1="1369" y1="362.2" x2="1199.31" y2="192.51"/><line x1="1369" y1="362.2" x2="1249.01" y2="154.37"/><line x1="1369" y1="362.2" x2="1306.89" y2="130.4"/><line x1="1369" y1="362.2" x2="1369" y2="122.22"/><line x1="1369" y1="362.2" x2="1431.11" y2="130.4"/><line x1="1369" y1="362.2" x2="1488.99" y2="154.37"/><line x1="1369" y1="362.2" x2="1538.69" y2="192.51"/><line x1="1369" y1="362.2" x2="1576.83" y2="242.21"/><line x1="1369" y1="362.2" x2="1600.8" y2="300.09"/></g>
<path d="M1129.02,362.2 A239.98,239.98 0 0 1 1608.98,362.2" fill="none" stroke="#7f7f7f" stroke-width="2.2"/>
<g stroke="#7f7f7f" stroke-width="1.8"><line x1="1129.02" y1="362.2" x2="1137.62" y2="362.2"/><line x1="1131.07" y1="330.88" x2="1136.03" y2="331.53"/><line x1="1137.2" y1="300.09" x2="1145.5" y2="302.31"/><line x1="1147.29" y1="270.36" x2="1151.91" y2="272.28"/><line x1="1161.17" y1="242.21" x2="1168.62" y2="246.51"/><line x1="1178.61" y1="216.11" x2="1182.58" y2="219.15"/><line x1="1199.31" y1="192.51" x2="1205.39" y2="198.59"/><line x1="1222.91" y1="171.81" x2="1225.95" y2="175.78"/><line x1="1249.01" y1="154.37" x2="1253.31" y2="161.82"/><line x1="1277.16" y1="140.49" x2="1279.08" y2="145.11"/><line x1="1306.89" y1="130.4" x2="1309.11" y2="138.7"/><line x1="1337.68" y1="124.27" x2="1338.33" y2="129.23"/><line x1="1369" y1="122.22" x2="1369" y2="130.82"/><line x1="1400.32" y1="124.27" x2="1399.67" y2="129.23"/><line x1="1431.11" y1="130.4" x2="1428.89" y2="138.7"/><line x1="1460.84" y1="140.49" x2="1458.92" y2="145.11"/><line x1="1488.99" y1="154.37" x2="1484.69" y2="161.82"/><line x1="1515.09" y1="171.81" x2="1512.05" y2="175.78"/><line x1="1538.69" y1="192.51" x2="1532.61" y2="198.59"/><line x1="1559.39" y1="216.11" x2="1555.42" y2="219.15"/><line x1="1576.83" y1="242.21" x2="1569.38" y2="246.51"/><line x1="1590.71" y1="270.36" x2="1586.09" y2="272.28"/><line x1="1600.8" y1="300.09" x2="1592.5" y2="302.31"/><line x1="1606.93" y1="330.88" x2="1601.97" y2="331.53"/><line x1="1608.98" y1="362.2" x2="1600.38" y2="362.2"/></g>
<line x1="1129.02" y1="362.2" x2="1608.98" y2="362.2" stroke="#000" stroke-width="1.8"/>
<g stroke="#000" stroke-width="1.8"><line x1="1147.48" y1="362.2" x2="1147.48" y2="371.2"/><line x1="1184.4" y1="362.2" x2="1184.4" y2="367.7"/><line x1="1221.32" y1="362.2" x2="1221.32" y2="371.2"/><line x1="1258.24" y1="362.2" x2="1258.24" y2="367.7"/><line x1="1295.16" y1="362.2" x2="1295.16" y2="371.2"/><line x1="1332.08" y1="362.2" x2="1332.08" y2="367.7"/><line x1="1369" y1="362.2" x2="1369" y2="371.2"/><line x1="1405.92" y1="362.2" x2="1405.92" y2="367.7"/><line x1="1442.84" y1="362.2" x2="1442.84" y2="371.2"/><line x1="1479.76" y1="362.2" x2="1479.76" y2="367.7"/><line x1="1516.68" y1="362.2" x2="1516.68" y2="371.2"/><line x1="1553.6" y1="362.2" x2="1553.6" y2="367.7"/><line x1="1590.52" y1="362.2" x2="1590.52" y2="371.2"/></g>
<text x="1147.48" y="396.6" font-size="30" text-anchor="middle" font-family="'Liberation Sans', Arial, Helvetica, sans-serif" fill="#000">12</text>
<text x="1221.32" y="396.6" font-size="30" text-anchor="middle" font-family="'Liberation Sans', Arial, Helvetica, sans-serif" fill="#000">8</text>
<text x="1295.16" y="396.6" font-size="30" text-anchor="middle" font-family="'Liberation Sans', Arial, Helvetica, sans-serif" fill="#000">4</text>
<text x="1369" y="396.6" font-size="30" text-anchor="middle" font-family="'Liberation Sans', Arial, Helvetica, sans-serif" fill="#000">0</text>
<text x="1442.84" y="396.6" font-size="30" text-anchor="middle" font-family="'Liberation Sans', Arial, Helvetica, sans-serif" fill="#000">4</text>
<text x="1516.68" y="396.6" font-size="30" text-anchor="middle" font-family="'Liberation Sans', Arial, Helvetica, sans-serif" fill="#000">8</text>
<text x="1590.52" y="396.6" font-size="30" text-anchor="middle" font-family="'Liberation Sans', Arial, Helvetica, sans-serif" fill="#000">12</text>
<text x="1368.2" y="114.6" font-size="30" text-anchor="middle" font-family="'Liberation Sans', Arial, Helvetica, sans-serif" fill="#000">0</text>
<text x="1430.5" y="123.6" font-size="30" text-anchor="middle" font-family="'Liberation Sans', Arial, Helvetica, sans-serif" fill="#000">15</text>
<text x="1293.9" y="123.6" font-size="30" text-anchor="middle" font-family="'Liberation Sans', Arial, Helvetica, sans-serif" fill="#000">-15</text>
<text x="1500.3" y="145.9" font-size="30" text-anchor="middle" font-family="'Liberation Sans', Arial, Helvetica, sans-serif" fill="#000">30</text>
<text x="1237.5" y="145.7" font-size="30" text-anchor="middle" font-family="'Liberation Sans', Arial, Helvetica, sans-serif" fill="#000">-30</text>
<text x="1553.6" y="187.5" font-size="30" text-anchor="middle" font-family="'Liberation Sans', Arial, Helvetica, sans-serif" fill="#000">45</text>
<text x="1179" y="186.6" font-size="30" text-anchor="middle" font-family="'Liberation Sans', Arial, Helvetica, sans-serif" fill="#000">-45</text>
<text x="1595.9" y="241.1" font-size="30" text-anchor="middle" font-family="'Liberation Sans', Arial, Helvetica, sans-serif" fill="#000">60</text>
<text x="1134.1" y="245.3" font-size="30" text-anchor="middle" font-family="'Liberation Sans', Arial, Helvetica, sans-serif" fill="#000">-60</text>
<text x="1622.4" y="308.5" font-size="30" text-anchor="middle" font-family="'Liberation Sans', Arial, Helvetica, sans-serif" fill="#000">75</text>
<text x="1110.3" y="305.9" font-size="30" text-anchor="middle" font-family="'Liberation Sans', Arial, Helvetica, sans-serif" fill="#000">-75</text>
<text x="1633" y="365" font-size="30" text-anchor="middle" font-family="'Liberation Sans', Arial, Helvetica, sans-serif" fill="#000">90</text>
<text x="1101.4" y="365.2" font-size="30" text-anchor="middle" font-family="'Liberation Sans', Arial, Helvetica, sans-serif" fill="#000">-90</text>
<text x="1364.9" y="430.2" font-size="26.1" text-anchor="middle" font-family="'Liberation Sans', Arial, Helvetica, sans-serif" fill="#000">Normalized Resistance change [dB]</text>
<text x="1377" y="510.5" font-size="49" text-anchor="middle" font-family="'Liberation Serif', 'Times New Roman', serif" fill="#231f20">(c)</text>
<path d="M1368.8,361.8 1370.6,360.9 1372.4,359.9 1374.2,359.0 1376.0,358.0 1377.8,357.1 1379.6,356.1 1381.4,355.2 1383.1,354.2 1384.9,353.2 1386.7,352.2 1388.5,351.3 1390.2,350.3 1392.0,349.3 1393.7,348.3 1395.5,347.3 1397.3,346.3 1399.0,345.4 1400.8,344.4 1402.5,343.4 1404.2,342.4 1406.0,341.4 1407.7,340.4 1409.5,339.4 1411.2,338.4 1413.0,337.4 1414.7,336.4 1416.4,335.4 1418.2,334.4 1419.9,333.4 1421.6,332.4 1423.4,331.4 1425.1,330.4 1426.8,329.4 1428.6,328.3 1430.3,327.3 1432.0,326.3 1433.8,325.3 1435.5,324.3 1437.2,323.3 1439.0,322.3 1440.7,321.3 1442.4,320.4 1444.2,319.4 1445.9,318.4 1447.6,317.4 1449.4,316.4 1451.1,315.4 1452.9,314.4 1454.6,313.4 1456.4,312.5 1458.1,311.5 1459.9,310.5 1461.6,309.5 1463.4,308.6 1465.2,307.6 1466.9,306.7 1468.7,305.7 1470.5,304.7 1472.2,303.8 1474.0,302.8 1475.8,301.9 1477.6,301.0 1479.4,300.0 1481.2,299.1 1483.0,298.2 1484.8,297.3 1486.6,296.3 1488.4,295.4 1490.2,294.5 1492.0,293.6 1493.8,292.7 1495.6,291.8 1497.4,290.8 1499.2,289.9 1501.0,289.0 1502.8,288.0 1504.6,287.1 1506.4,286.1 1508.2,285.1 1510.0,284.1 1511.8,283.1 1513.5,282.1 1515.3,281.0 1517.0,280.0 1518.8,278.9 1520.5,277.8 1522.2,276.7 1523.9,275.5 1525.6,274.4 1527.3,273.2 1529.0,272.0 1530.7,270.7 1532.3,269.5 1533.9,268.2 1535.5,266.8 1537.1,265.5 1538.7,264.1 1540.2,262.6 1541.7,261.2 1543.0,259.7 1544.4,258.2 1545.6,256.6 1546.7,255.1 1547.7,253.5 1548.6,251.9 1549.4,250.2 1550.1,248.6 1550.5,246.9 1550.9,245.2 1551.0,243.4 1551.1,241.7 1551.0,239.9 1550.7,238.2 1550.4,236.4 1549.9,234.6 1549.3,232.9 1548.6,231.1 1547.8,229.4 1546.9,227.6 1545.9,225.9 1544.8,224.2 1543.6,222.5 1542.4,220.9 1541.1,219.3 1539.7,217.7 1538.3,216.2 1536.9,214.7 1535.4,213.2 1533.8,211.8 1532.3,210.4 1530.6,209.1 1529.0,207.8 1527.3,206.5 1525.6,205.3 1523.9,204.1 1522.1,202.9 1520.3,201.8 1518.6,200.7 1516.7,199.7 1514.9,198.7 1513.1,197.7 1511.3,196.7 1509.5,195.8 1507.6,194.9 1505.8,194.0 1504.0,193.1 1502.2,192.3 1500.4,191.5 1498.6,190.7 1496.8,190.0 1495.0,189.2 1493.2,188.5 1491.3,187.9 1489.5,187.2 1487.7,186.6 1485.8,186.0 1484.0,185.4 1482.1,184.9 1480.2,184.3 1478.3,183.9 1476.4,183.4 1474.4,182.9 1472.4,182.5 1470.4,182.1 1468.3,181.8 1466.2,181.4 1464.1,181.1 1462.0,180.9 1459.9,180.6 1457.8,180.5 1455.6,180.3 1453.5,180.2 1451.4,180.2 1449.2,180.2 1447.1,180.3 1445.1,180.4 1443.0,180.6 1441.0,180.9 1439.0,181.2 1437.0,181.6 1435.1,182.1 1433.2,182.7 1431.4,183.3 1429.6,184.0 1427.9,184.8 1426.2,185.6 1424.5,186.5 1422.9,187.5 1421.2,188.5 1419.7,189.6 1418.1,190.7 1416.6,191.9 1415.1,193.1 1413.7,194.4 1412.2,195.7 1410.8,197.0 1409.3,198.4 1407.9,199.7 1406.6,201.2 1405.2,202.6 1403.8,204.1 1402.4,205.5 1401.1,207.0 1399.7,208.5 1398.3,210.0 1397.0,211.6 1395.6,213.1 1394.2,214.6 1392.8,216.1 1391.4,217.6 1390.0,219.1 1388.6,220.5 1387.1,222.0 1385.7,223.4 1384.2,224.8 1382.7,226.2 1381.2,227.5 1379.6,228.9 1378.0,230.1 1376.4,231.4 1374.7,232.6 1373.1,233.8 1371.4,235.0 1369.7,236.1 1368.0,237.2 1366.3,238.3 1364.5,239.4 1362.8,240.5 1361.1,241.6 1359.4,242.7 1357.6,243.8 1355.9,244.9 1354.2,246.0 1352.5,247.1 1350.9,248.2 1349.2,249.4 1347.6,250.6 1346.0,251.8 1344.4,253.0 1342.9,254.3 1341.4,255.6 1339.9,256.9 1338.5,258.3 1337.1,259.8 1335.8,261.2 1334.5,262.8 1333.2,264.3 1332.1,266.0 1330.9,267.6 1329.9,269.3 1328.8,271.0 1327.9,272.7 1327.0,274.5 1326.1,276.3 1325.4,278.1 1324.7,280.0 1324.0,281.8 1323.4,283.7 1322.9,285.6 1322.5,287.5 1322.1,289.4 1321.9,291.3 1321.7,293.2 1321.5,295.1 1321.5,297.0 1321.5,298.9 1321.7,300.8 1321.9,302.7 1322.2,304.6 1322.5,306.4 1323.0,308.3 1323.6,310.1 1324.2,311.9 1325.0,313.7 1325.8,315.5 1326.8,317.2 1327.8,318.9 1328.9,320.6 1330.1,322.3 1331.4,323.9 1332.7,325.6 1334.1,327.2 1335.5,328.8 1337.0,330.3 1338.5,331.9 1340.0,333.4 1341.6,334.9 1343.2,336.4 1344.8,337.9 1346.4,339.4 1348.0,340.9 1349.6,342.3 1351.2,343.8 1352.8,345.2 1354.4,346.6 1355.9,348.0 1357.4,349.4 1358.9,350.8 1360.3,352.2 1361.7,353.6 1363.0,355.0 1364.2,356.4 1365.4,357.7 1366.5,359.1 1367.6,360.5 1368.5,361.8" fill="none" stroke="#ff0000" stroke-width="4.1" stroke-linejoin="round"/>
<g stroke="#0000ff" stroke-width="1.8" fill="none"><path d="M1415.3,180.2V191.8M1409.5,186H1421.1M1411.2,181.9L1419.4,190.1M1411.2,190.1L1419.4,181.9"/><path d="M1437.5,165.8V177.4M1431.7,171.6H1443.3M1433.4,167.5L1441.6,175.7M1433.4,175.7L1441.6,167.5"/><path d="M1479.3,163.8V175.4M1473.5,169.6H1485.1M1475.2,165.5L1483.4,173.7M1475.2,173.7L1483.4,165.5"/><path d="M1503.8,195.2V206.8M1498,201H1509.6M1499.7,196.9L1507.9,205.1M1499.7,205.1L1507.9,196.9"/><path d="M1513.3,211.3V222.9M1507.5,217.1H1519.1M1509.2,213L1517.4,221.2M1509.2,221.2L1517.4,213"/><path d="M1495.7,283.3V294.9M1489.9,289.1H1501.5M1491.6,285L1499.8,293.2M1491.6,293.2L1499.8,285"/><path d="M1368.1,226.3V237.9M1362.3,232.1H1373.9M1364,228L1372.2,236.2M1364,236.2L1372.2,228"/><path d="M1368.1,231.2V242.8M1362.3,237H1373.9M1364,232.9L1372.2,241.1M1364,241.1L1372.2,232.9"/><path d="M1325.2,238.9V250.5M1319.4,244.7H1331M1321.1,240.6L1329.3,248.8M1321.1,248.8L1329.3,240.6"/><path d="M1341.4,258.2V269.8M1335.6,264H1347.2M1337.3,259.9L1345.5,268.1M1337.3,268.1L1345.5,259.9"/><path d="M1326.8,284.4V296M1321,290.2H1332.6M1322.7,286.1L1330.9,294.3M1322.7,294.3L1330.9,286.1"/><path d="M1316.1,294.5V306.1M1310.3,300.3H1321.9M1312,296.2L1320.2,304.4M1312,304.4L1320.2,296.2"/><path d="M1324.8,312.7V324.3M1319,318.5H1330.6M1320.7,314.4L1328.9,322.6M1320.7,322.6L1328.9,314.4"/><path d="M1352.2,346.9V358.5M1346.4,352.7H1358M1348.1,348.6L1356.3,356.8M1348.1,356.8L1356.3,348.6"/><path d="M1259.2,36.5V50.1M1252.4,43.3H1266M1254.39,38.49L1264.01,48.11M1254.39,48.11L1264.01,38.49"/></g>
<line x1="1230" y1="10.5" x2="1288" y2="10.5" stroke="#ff0000" stroke-width="3.4" stroke-linecap="round"/>
<text x="1301" y="21.2" font-size="28.6" text-anchor="start" font-family="'Liberation Sans', Arial, Helvetica, sans-serif" fill="#000">Simulation</text>
<text x="1303.5" y="52.5" font-size="28.6" text-anchor="start" font-family="'Liberation Sans', Arial, Helvetica, sans-serif" fill="#000">Measurement</text>
</svg></body></html>
